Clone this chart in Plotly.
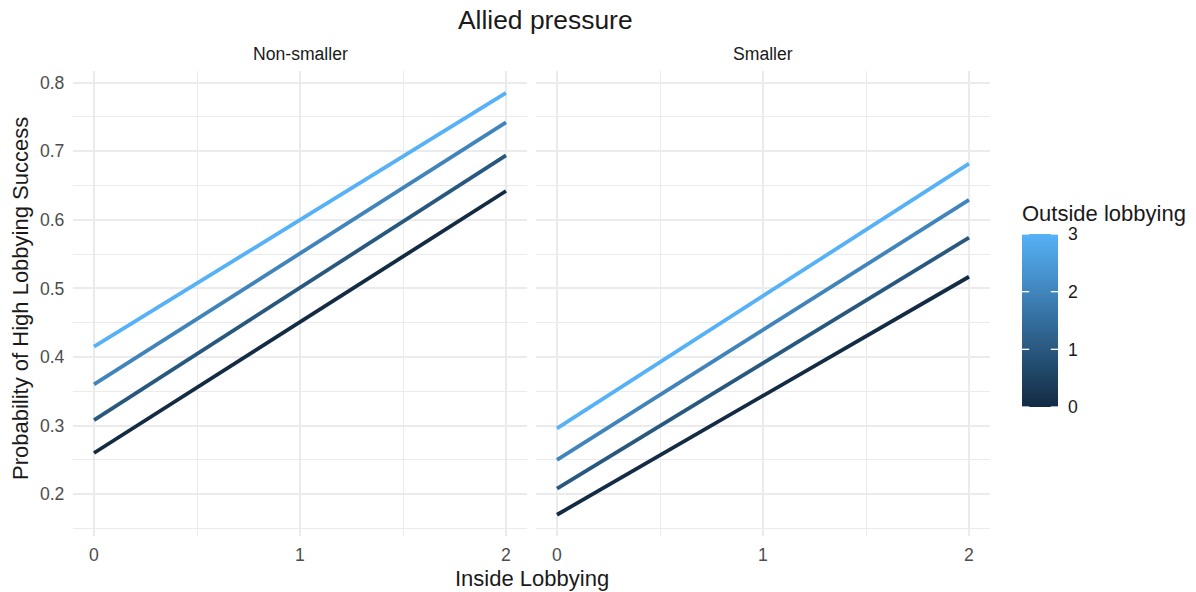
import plotly.graph_objects as go

# Predicted probabilities by inside lobbying (x) for each outside-lobbying level
inside_lobbying = [0, 2]
outside_levels = [0, 1, 2, 3]
facets = ["Non-smaller", "Smaller"]

non_smaller = {
    0: [0.260, 0.642],
    1: [0.308, 0.694],
    2: [0.360, 0.742],
    3: [0.415, 0.785],
}
smaller = {
    0: [0.170, 0.517],
    1: [0.208, 0.574],
    2: [0.250, 0.629],
    3: [0.296, 0.682],
}

low_col = (0x13, 0x2B, 0x43)
high_col = (0x56, 0xB1, 0xF7)


def blend(t):
    r, g, b = (round(a + (c - a) * t) for a, c in zip(low_col, high_col))
    return f"rgb({r},{g},{b})"


colorscale = [[i / 10, blend(i / 10)] for i in range(11)]
cmin, cmax = min(outside_levels), max(outside_levels)

W, H = 1196, 592
BLACK = "#1a1a1a"
GREY = "#4D4D4D"
GRID = "#EBEBEB"

fig = go.Figure()

for panel, data in enumerate([non_smaller, smaller]):
    xa, ya = ("x", "y") if panel == 0 else ("x2", "y2")
    for lvl in outside_levels:
        fig.add_trace(go.Scatter(
            x=inside_lobbying, y=data[lvl], mode="lines",
            line=dict(color=blend((lvl - cmin) / (cmax - cmin)), width=3.8),
            xaxis=xa, yaxis=ya, showlegend=False,
            name=f"Outside lobbying = {lvl}",
        ))

# Colour bar drawn as a smoothed one-column heatmap on its own axes
fig.add_trace(go.Heatmap(
    z=[[v] for v in outside_levels], x=[0], y=outside_levels,
    colorscale=colorscale, zmin=cmin, zmax=cmax, zsmooth="best",
    showscale=False, xaxis="x3", yaxis="y3", hoverinfo="skip",
))
# White tick marks on both edges of the bar
tick_x, tick_y = [], []
for v in outside_levels:
    tick_x += [-0.5, -0.3, None, 0.3, 0.5, None]
    tick_y += [v, v, None, v, v, None]
fig.add_trace(go.Scatter(
    x=tick_x, y=tick_y, mode="lines", line=dict(color="white", width=1.3),
    xaxis="x3", yaxis="y3", showlegend=False, hoverinfo="skip",
))

y_dom = [1 - 536 / H, 1 - 71 / H]
tick_font = dict(size=17.6, color=GREY)

common_x = dict(
    range=[-0.1, 2.1], tickvals=[0, 1, 2], showgrid=True, gridcolor=GRID,
    gridwidth=2, zeroline=False, showline=False, ticks="", tickfont=tick_font,
    ticklabelstandoff=6, automargin=False,
    minor=dict(dtick=0.5, tick0=0, showgrid=True, gridcolor=GRID, gridwidth=1.1),
)
common_y = dict(
    range=[0.139, 0.817], tickvals=[0.2, 0.3, 0.4, 0.5, 0.6, 0.7, 0.8],
    tickformat=".1f", showgrid=True, gridcolor=GRID, gridwidth=2,
    zeroline=False, showline=False, ticks="", tickfont=tick_font,
    ticklabelstandoff=8, automargin=False,
    minor=dict(dtick=0.05, tick0=0.15, showgrid=True, gridcolor=GRID, gridwidth=1.1),
)


def ann(text, x, y, size, **kw):
    return dict(text=text, x=x / W, y=1 - y / H, xref="paper", yref="paper",
                xanchor=kw.pop("xanchor", "center"), yanchor="middle",
                showarrow=False, font=dict(size=size, color=BLACK), **kw)


fig.update_layout(
    width=W, height=H,
    margin=dict(l=0, r=0, t=0, b=0, autoexpand=False),
    paper_bgcolor="white", plot_bgcolor="white",
    font=dict(family="Liberation Sans, Arial, sans-serif", color=BLACK),
    xaxis=dict(domain=[73.4 / W, 526.6 / W], anchor="y", **common_x),
    xaxis2=dict(domain=[536.4 / W, 989.6 / W], anchor="y2", **common_x),
    yaxis=dict(domain=y_dom, anchor="x", **common_y),
    yaxis2=dict(domain=y_dom, anchor="x2", matches="y", showticklabels=False,
                **{k: v for k, v in common_y.items() if k != "range"}),
    xaxis3=dict(domain=[1022 / W, 1058 / W], anchor="y3", range=[-0.5, 0.5],
                visible=False, fixedrange=True, automargin=False),
    yaxis3=dict(domain=[1 - 407 / H, 1 - 234 / H], anchor="x3", side="right",
                range=[cmin, cmax], tickvals=outside_levels, showgrid=False,
                zeroline=False, showline=False, ticks="", ticklabelstandoff=9,
                tickfont=dict(size=17.6, color=BLACK), fixedrange=True,
                automargin=False),
    annotations=[
        ann("Allied pressure", 545, 20, 26.4),
        ann(facets[0], 300, 54, 17.6),
        ann(facets[1], 763, 54, 17.6),
        ann("Inside Lobbying", 532, 578, 22),
        ann("Probability of High Lobbying Success", 20, 299, 22, textangle=-90),
        ann("Outside lobbying", 1020, 213, 22, xanchor="left"),
    ],
)

fig.write_html("out.html")
